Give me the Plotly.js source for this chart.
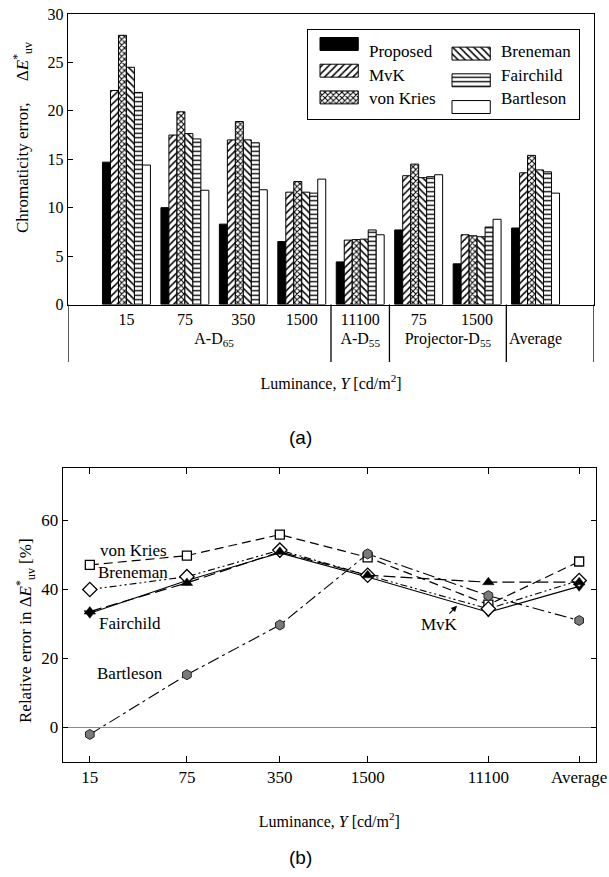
<!DOCTYPE html>
<html>
<head>
<meta charset="utf-8">
<script src="https://cdn.plot.ly/plotly-3.0.1.min.js"></script>
<style>
  html, body { margin: 0; padding: 0; background: #fff; }
  #chart { width: 609px; height: 877px; }
</style>
</head>
<body>
<div id="chart"></div>
<script>
// ---- (a) chromaticity error for each viewing condition ----
const conditionGroups = ['A-D<sub>65</sub>', 'A-D<sub>65</sub>', 'A-D<sub>65</sub>', 'A-D<sub>65</sub>',
                         'A-D<sub>55</sub>', 'Projector-D<sub>55</sub>', 'Projector-D<sub>55</sub>', 'Average'];
const conditionLuminances = ['15', '75', '350', '1500', '11100', '75', '1500', '\u00a0'];

const models = ['Proposed', 'MvK', 'von Kries', 'Breneman', 'Fairchild', 'Bartleson'];
const proposedErr  = [14.7, 10.0,  8.3,  6.5, 4.4,  7.7, 4.2,  7.9];
const mvkErr       = [22.1, 17.5, 17.0, 11.6, 6.65, 13.3, 7.2, 13.6];
const vonKriesErr  = [27.8, 19.9, 18.9, 12.7, 6.7,  14.5, 7.1, 15.4];
const brenemanErr  = [24.5, 17.65, 17.0, 11.6, 6.75, 13.1, 7.0, 13.9];
const fairchildErr = [21.9, 17.1, 16.7, 11.5, 7.7,  13.2, 8.0, 13.7];
const bartlesonErr = [14.4, 11.8, 11.85, 12.95, 7.2, 13.4, 8.8, 11.5];
const errorSeries = [proposedErr, mvkErr, vonKriesErr, brenemanErr, fairchildErr, bartlesonErr];

// ---- (b) relative error against luminance ----
const lumLabels = ['15', '75', '350', '1500', '11100', 'Average'];
const lumPositions = [15, 75, 350, 1500, 11100, 50000];   // "Average" sits past the last level
const relVonKries  = [47.0, 49.7, 55.8, 49.2, 35.5, 48.0];
const relMvK       = [33.0, 42.5, 50.5, 43.5, 33.3, 40.8];
const relBreneman  = [39.9, 43.6, 51.3, 44.0, 34.3, 42.5];
const relFairchild = [33.5, 41.8, 50.8, 44.0, 42.0, 42.0];
const relBartleson = [-2.1, 15.2, 29.6, 50.2, 38.1, 30.9];

const SERIF = 'Liberation Serif, Times New Roman, serif';
const SANS = 'Liberation Sans, Arial, sans-serif';
const W = 609, H = 877;
const px = v => v / W;          // page pixel -> paper x
const py = v => 1 - v / H;      // page pixel -> paper y

// fill style of each model's bars
const barFill = {
  'Proposed':  { color: 'black', shape: '',   size: 6,   solidity: 0.3 },
  'MvK':       { color: 'white', shape: '/',  size: 5,   solidity: 0.3 },
  'von Kries': { color: 'white', shape: 'x',  size: 4,   solidity: 0.45 },
  'Breneman':  { color: 'white', shape: '\\', size: 5,   solidity: 0.3 },
  'Fairchild': { color: 'white', shape: '-',  size: 4.5, solidity: 0.3 },
  'Bartleson': { color: 'white', shape: '',   size: 6,   solidity: 0.3 }
};
const barMarker = m => {
  const f = barFill[m];
  return {
    color: f.color,
    line: { color: 'black', width: 1 },
    pattern: { shape: f.shape, fgcolor: 'black', bgcolor: f.color, size: f.size, solidity: f.solidity, fillmode: 'replace' }
  };
};

const traces = [];

models.forEach((m, i) => {
  traces.push({
    type: 'bar', name: m, showlegend: false,
    x: [conditionGroups, conditionLuminances],
    y: errorSeries[i],
    xaxis: 'x', yaxis: 'y',
    marker: barMarker(m),
    hoverinfo: 'x+y+name'
  });
});

// key swatches: three rows per column, drawn on their own small axes
const swatchCol = models.map((m, i) => Math.floor(i / 3));
const swatchRow = models.map((m, i) => i % 3);
models.forEach((m, i) => {
  traces.push({
    type: 'bar', orientation: 'h', name: m + ' key', showlegend: false, hoverinfo: 'skip',
    xaxis: 'x3', yaxis: 'y3',
    y: [swatchRow[i]], base: [swatchCol[i]], x: [0.29], width: 0.55,
    marker: barMarker(m)
  });
});

// (b) lines
const lineSeries = [
  { name: 'von Kries', y: relVonKries,
    line: { color: 'black', width: 1.2, dash: '9px,5px' },
    marker: { symbol: 'square', size: 9, color: 'white', line: { color: 'black', width: 1.3 } } },
  { name: 'MvK', y: relMvK,
    line: { color: 'black', width: 1.1, dash: 'solid' },
    marker: { symbol: 'triangle-down', size: 10, color: 'black', line: { color: 'black', width: 0.5 } } },
  { name: 'Breneman', y: relBreneman,
    line: { color: 'black', width: 1.1, dash: '7px,3px,2px,3px,2px,3px' },
    marker: { symbol: 'diamond', size: 11, color: 'white', line: { color: 'black', width: 1.3 } } },
  { name: 'Fairchild', y: relFairchild,
    line: { color: 'black', width: 1.2, dash: '12px,5px' },
    marker: { symbol: 'triangle-up', size: 10, color: 'black', line: { color: 'black', width: 0.5 } } },
  { name: 'Bartleson', y: relBartleson,
    line: { color: 'black', width: 1.1, dash: '12px,4px,3px,4px' },
    marker: { symbol: 'hexagon', size: 10, color: '#7a7a7a', line: { color: '#222', width: 1 } } }
];
lineSeries.forEach(s => {
  traces.push({
    type: 'scatter', mode: 'lines+markers', name: s.name, showlegend: false,
    x: lumPositions, y: s.y, xaxis: 'x2', yaxis: 'y2',
    line: s.line, marker: s.marker
  });
});

const txt = (text, x, y, size, extra) => Object.assign({
  text: text, x: x, y: y, xref: 'paper', yref: 'paper', showarrow: false,
  font: { family: SERIF, size: size, color: 'black' }, xanchor: 'center', yanchor: 'middle'
}, extra || {});

const annotations = [
  // key labels
  ...models.map((m, i) => ({
    text: m, xref: 'x3', yref: 'y3', x: swatchCol[i] + 0.355, y: swatchRow[i],
    xanchor: 'left', yanchor: 'middle', showarrow: false,
    font: { family: SERIF, size: 17, color: 'black' }
  })),
  // vertical axis titles
  txt('Chromaticity error,\u2003 Δ<i>E</i><sup>*</sup><sub>uv</sub>', px(22), py(138), 17, { textangle: -90 }),
  txt('Relative error in Δ<i>E</i><sup>*</sup><sub>uv</sub> [%]', px(25), py(631), 17, { textangle: -90 }),
  // panel captions
  txt('(a)', px(300), py(437), 19, { font: { family: SANS, size: 19, color: 'black' } }),
  txt('(b)', px(300), py(857), 19, { font: { family: SANS, size: 19, color: 'black' } }),
  // series labels in (b)
  txt('von Kries', px(133), py(550), 17),
  txt('Breneman', px(133), py(572), 17),
  txt('Fairchild', px(130), py(623), 17),
  txt('Bartleson', px(130), py(673), 17),
  {
    text: 'MvK', xref: 'x2', yref: 'y2', x: Math.log10(6600), y: 35.2,
    ax: -18, ay: 19, showarrow: true, arrowhead: 2, arrowsize: 1, arrowwidth: 1.2, arrowcolor: 'black',
    font: { family: SERIF, size: 17, color: 'black' }
  }
];

// group separators under the (a) axis
const separatorsAt = [-1, 3.5, 4.5, 6.5, 8];
const shapes = separatorsAt.map(x => ({
  type: 'line', xref: 'x', yref: 'paper', x0: x, x1: x, y0: py(304.5), y1: py(362),
  line: { color: 'black', width: 1.3 }
}));

const axisCommon = {
  showline: true, linecolor: 'black', linewidth: 1.3, showgrid: false, zeroline: false,
  tickfont: { family: SERIF, size: 16, color: 'black' }, tickcolor: 'black'
};

const layout = {
  width: W, height: H,
  margin: { l: 0, r: 0, t: 0, b: 0 },
  paper_bgcolor: 'white', plot_bgcolor: 'white',
  showlegend: false,
  barmode: 'group', bargap: 0.18, bargroupgap: 0,
  font: { family: SERIF, color: 'black' },
  xaxis: Object.assign({}, axisCommon, {
    type: 'multicategory', domain: [px(68), px(594)], anchor: 'y',
    range: [-1, 8], mirror: true, ticks: '', showdividers: false,
    title: { text: 'Luminance, <i>Y</i> [cd/m<sup>2</sup>]', font: { family: SERIF, size: 16 }, standoff: 29 }
  }),
  yaxis: Object.assign({}, axisCommon, {
    domain: [py(304.5), py(14)], anchor: 'x', range: [0, 30], dtick: 5,
    ticks: 'inside', ticklen: 5, mirror: true
  }),
  xaxis2: Object.assign({}, axisCommon, {
    type: 'log', domain: [px(63), px(595.7)], anchor: 'y2',
    range: [0.983, 4.818], tickvals: lumPositions, ticktext: lumLabels,
    ticks: 'inside', ticklen: 6, mirror: 'ticks',
    tickfont: { family: SERIF, size: 17, color: 'black' },
    title: { text: 'Luminance, <i>Y</i> [cd/m<sup>2</sup>]', font: { family: SERIF, size: 16 }, standoff: 29 }
  }),
  yaxis2: Object.assign({}, axisCommon, {
    domain: [py(761.7), py(468.3)], anchor: 'x2', range: [-10, 75],
    tickvals: [0, 20, 40, 60], ticks: 'inside', ticklen: 5, mirror: 'ticks',
    zeroline: true, zerolinecolor: '#8a8a8a', zerolinewidth: 1,
    tickfont: { family: SERIF, size: 17, color: 'black' }
  }),
  xaxis3: {
    domain: [px(308), px(579)], anchor: 'y3', range: [-12 / 132, 259 / 132],
    showline: true, mirror: true, linecolor: 'black', linewidth: 1.2,
    showticklabels: false, ticks: '', showgrid: false, zeroline: false, fixedrange: true
  },
  yaxis3: {
    domain: [py(119), py(30)], anchor: 'x3', range: [67 / 23.5, -22 / 23.5],
    showline: true, mirror: true, linecolor: 'black', linewidth: 1.2,
    showticklabels: false, ticks: '', showgrid: false, zeroline: false, fixedrange: true
  },
  annotations: annotations,
  shapes: shapes
};

Plotly.newPlot('chart', traces, layout, { displayModeBar: false, staticPlot: true });
</script>
</body>
</html>
